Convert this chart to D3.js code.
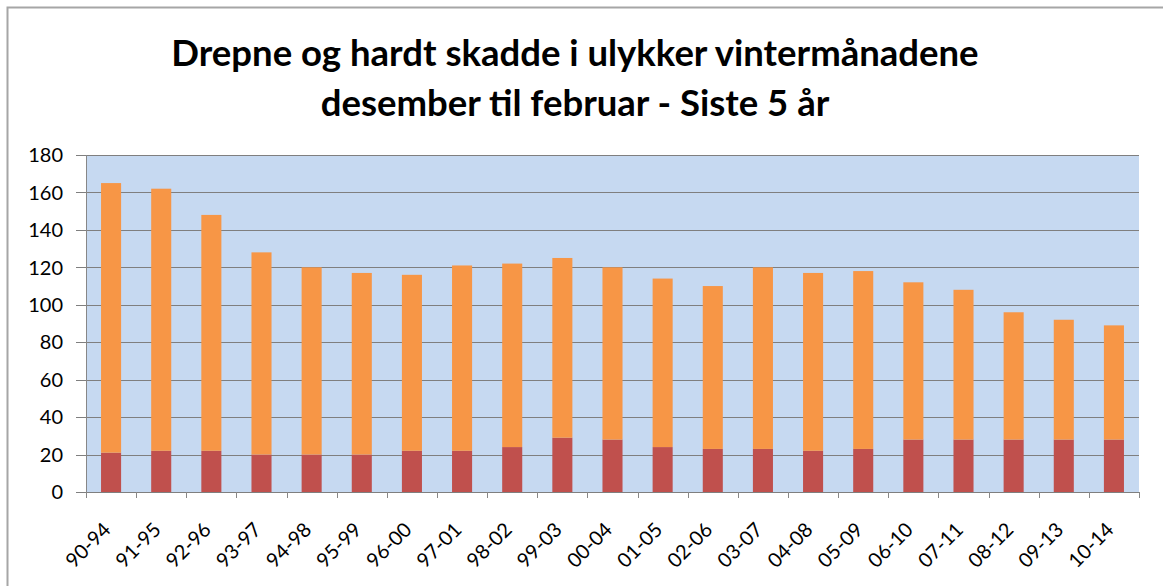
<!DOCTYPE html>
<html>
<head>
<meta charset="utf-8">
<script src="https://cdn.jsdelivr.net/npm/d3@7"></script>
<style>
  body { margin: 0; background: #fff; }
  svg { display: block; }
</style>
</head>
<body>
<div id="chart"></div>
<script>
const W = 1163, H = 586;
const margin = { top: 155, right: 24, bottom: 94, left: 86 };
const width = W - margin.left - margin.right;
const height = H - margin.top - margin.bottom;

// data
const periods = ["90-94","91-95","92-96","93-97","94-98","95-99","96-00","97-01","98-02","99-03",
  "00-04","01-05","02-06","03-07","04-08","05-09","06-10","07-11","08-12","09-13","10-14"];
const drepne = [21, 22, 22, 20, 20, 20, 22, 22, 24, 29, 28, 24, 23, 23, 22, 23, 28, 28, 28, 28, 28];
const hardtSkadde = [144, 140, 126, 108, 100, 97, 94, 99, 98, 96, 92, 90, 87, 97, 95, 95, 84, 80, 68, 64, 61];
const yTicks = [0, 20, 40, 60, 80, 100, 120, 140, 160, 180];
const titleLines = ["Drepne og hardt skadde i ulykker vintermånadene", "desember til februar - Siste 5 år"];

const colors = { drepne: "#c0504d", hardtSkadde: "#f79646" };

const rows = periods.map((p, i) => ({ period: p, drepne: drepne[i], hardtSkadde: hardtSkadde[i] }));
const stack = d3.stack().keys(["drepne", "hardtSkadde"])(rows);

const svg = d3.select("#chart").append("svg")
    .attr("width", W)
    .attr("height", H);

// outer chart border
svg.append("rect")
    .attr("x", 7.5).attr("y", 7.5)
    .attr("width", W + 10).attr("height", H + 10)
    .attr("fill", "#fff")
    .attr("stroke", "#a6a6a6")
    .attr("stroke-width", 2);

svg.selectAll(".title")
    .data(titleLines)
    .enter()
    .append("text")
    .attr("x", 575)
    .attr("y", (d, i) => 66 + i * 50)
    .attr("text-anchor", "middle")
    .style("font-family", "Lato, 'Open Sans', sans-serif")
    .style("font-weight", "bold")
    .style("font-size", "36.5px")
    .style("fill", "#000")
    .text(d => d);

const g = svg.append("g")
    .attr("transform", `translate(${margin.left},${margin.top})`);

const x = d3.scaleBand()
    .domain(periods)
    .range([0, width])
    .paddingInner(0.6)
    .paddingOuter(0.3);

const y = d3.scaleLinear()
    .domain([0, 180])
    .range([height, 0]);

g.append("rect")
    .attr("width", width)
    .attr("height", height)
    .attr("fill", "#c6d9f1");

// gridlines with left ticks
g.append("g")
    .selectAll("line")
    .data(yTicks)
    .enter()
    .append("line")
    .attr("x1", -10)
    .attr("x2", width)
    .attr("y1", d => Math.round(y(d)) + 0.5)
    .attr("y2", d => Math.round(y(d)) + 0.5)
    .attr("stroke", "#7f7f7f")
    .attr("stroke-width", 1);

g.selectAll(".layer")
    .data(stack)
    .enter()
    .append("g")
    .attr("fill", d => colors[d.key])
    .selectAll("rect")
    .data(d => d)
    .enter()
    .append("rect")
    .attr("x", d => x(d.data.period))
    .attr("y", d => y(d[1]))
    .attr("width", x.bandwidth())
    .attr("height", d => y(d[0]) - y(d[1]));

// vertical axis line
g.append("line")
    .attr("x1", 0.5).attr("x2", 0.5)
    .attr("y1", 0).attr("y2", height)
    .attr("stroke", "#878787");

// category boundary ticks
const step = width / periods.length;
g.append("g")
    .selectAll("line")
    .data(d3.range(periods.length + 1))
    .enter()
    .append("line")
    .attr("x1", i => Math.round(i * step) + 0.5)
    .attr("x2", i => Math.round(i * step) + 0.5)
    .attr("y1", height)
    .attr("y2", height + 6)
    .attr("stroke", "#878787");

g.selectAll(".ylab")
    .data(yTicks)
    .enter()
    .append("text")
    .attr("x", -23)
    .attr("y", d => y(d))
    .attr("dy", "0.36em")
    .attr("text-anchor", "end")
    .style("font-family", "Lato, sans-serif")
    .style("font-size", "20px")
    .style("fill", "#000")
    .text(d => d);

g.selectAll(".xlab")
    .data(periods)
    .enter()
    .append("text")
    .attr("transform", d => `translate(${x(d) + x.bandwidth() / 2 - 4},${height + 34}) rotate(-45)`)
    .attr("dy", "0.35em")
    .attr("text-anchor", "end")
    .style("font-family", "Lato, sans-serif")
    .style("font-size", "20px")
    .style("fill", "#000")
    .text(d => d);
</script>
</body>
</html>
